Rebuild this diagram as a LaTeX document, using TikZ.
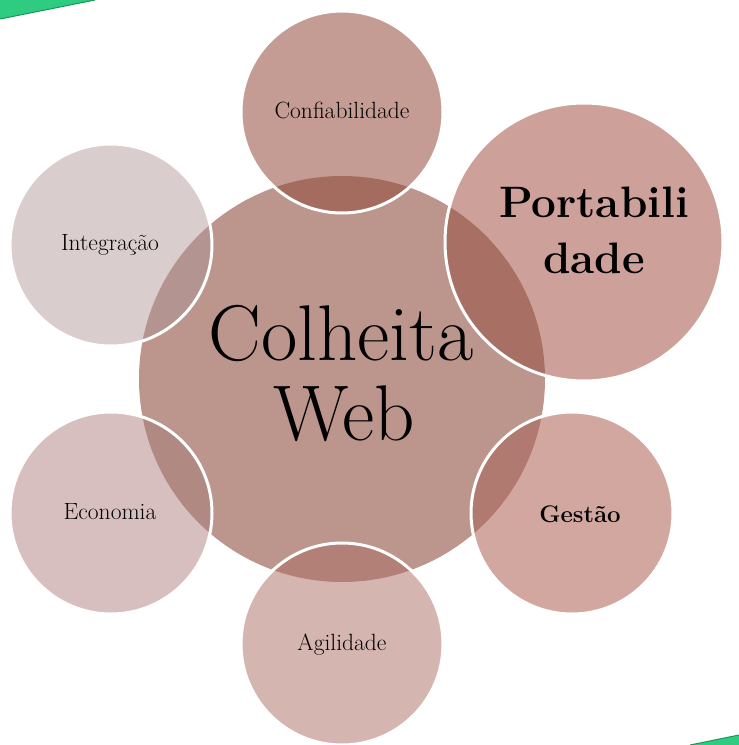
\documentclass[tikz,border=0pt]{standalone}
\begin{document}
\begin{tikzpicture}[x=1pt,y=-1pt,
  outline/.style={draw=white,line width=3pt},
  lbl/.style={font=\fontsize{23.5}{28}\selectfont,inner sep=0pt},
]
\definecolor{cCenter}{RGB}{188,149,141}
\definecolor{cConf}{RGB}{196,156,148}
\definecolor{cConfO}{RGB}{164,107,95}
\definecolor{cPort}{RGB}{205,161,154}
\definecolor{cPortO}{RGB}{168,112,100}
\definecolor{cGest}{RGB}{210,167,160}
\definecolor{cGestO}{RGB}{176,122,112}
\definecolor{cAgil}{RGB}{213,181,176}
\definecolor{cAgilO}{RGB}{178,128,118}
\definecolor{cEcon}{RGB}{216,191,191}
\definecolor{cEconO}{RGB}{177,137,131}
\definecolor{cInte}{RGB}{218,205,205}
\definecolor{cInteO}{RGB}{180,148,144}
\definecolor{cGreen}{RGB}{46,204,128}
\definecolor{cGreenD}{RGB}{30,150,90}
\useasboundingbox (0,0) rectangle (739,745);
% green corner strips
\fill[cGreen] (0,0) -- (95,0) -- (0,19) -- cycle;
\draw[cGreenD,line width=1pt] (95,0) -- (0,19);
\fill[cGreen] (739,735) -- (739,745) -- (690,745) -- cycle;
\draw[cGreenD,line width=1pt] (739,735) -- (690,745);
% central circle
\coordinate (c) at (342,379);
\fill[cCenter] (c) circle (203);
% outer circles
\foreach \n/\x/\y/\r/\f/\o in {conf/342/112/101/cConf/cConfO,
                               port/584/242/139/cPort/cPortO,
                               gest/572/513/101/cGest/cGestO,
                               agil/342/644/101/cAgil/cAgilO,
                               econ/111/513/101/cEcon/cEconO,
                               inte/111/245/101/cInte/cInteO}{
  \coordinate (\n) at (\x,\y);
  \fill[\f] (\n) circle (\r);
  \begin{scope}
    \clip (c) circle (203);
    \fill[\o] (\n) circle (\r);
  \end{scope}
  \draw[outline] (\n) circle (\r);
}
% texts
\node[anchor=base,inner sep=0pt,font=\fontsize{79}{86}\selectfont] (t1) at (341,360) {Colheita};
\node[anchor=base,inner sep=0pt,font=\fontsize{79}{86}\selectfont] (t2) at (344,440) {Web};
\node[anchor=base,inner sep=0pt,font=\fontsize{44}{56}\selectfont\bfseries] (p1) at (594,217) {Portabili};
\node[anchor=base,inner sep=0pt,font=\fontsize{44}{56}\selectfont\bfseries] (p2) at (594,273) {dade};
\node[lbl] (l1) at (342,110) {Confiabilidade};
\node[lbl] (l2) at (110,245) {Integração};
\node[lbl] (l3) at (110,512) {Economia};
\node[lbl] (l4) at (342,645) {Agilidade};
\node[lbl,font=\fontsize{24}{28}\selectfont\bfseries] (l5) at (580,514) {Gestão};
\end{tikzpicture}
\end{document}
